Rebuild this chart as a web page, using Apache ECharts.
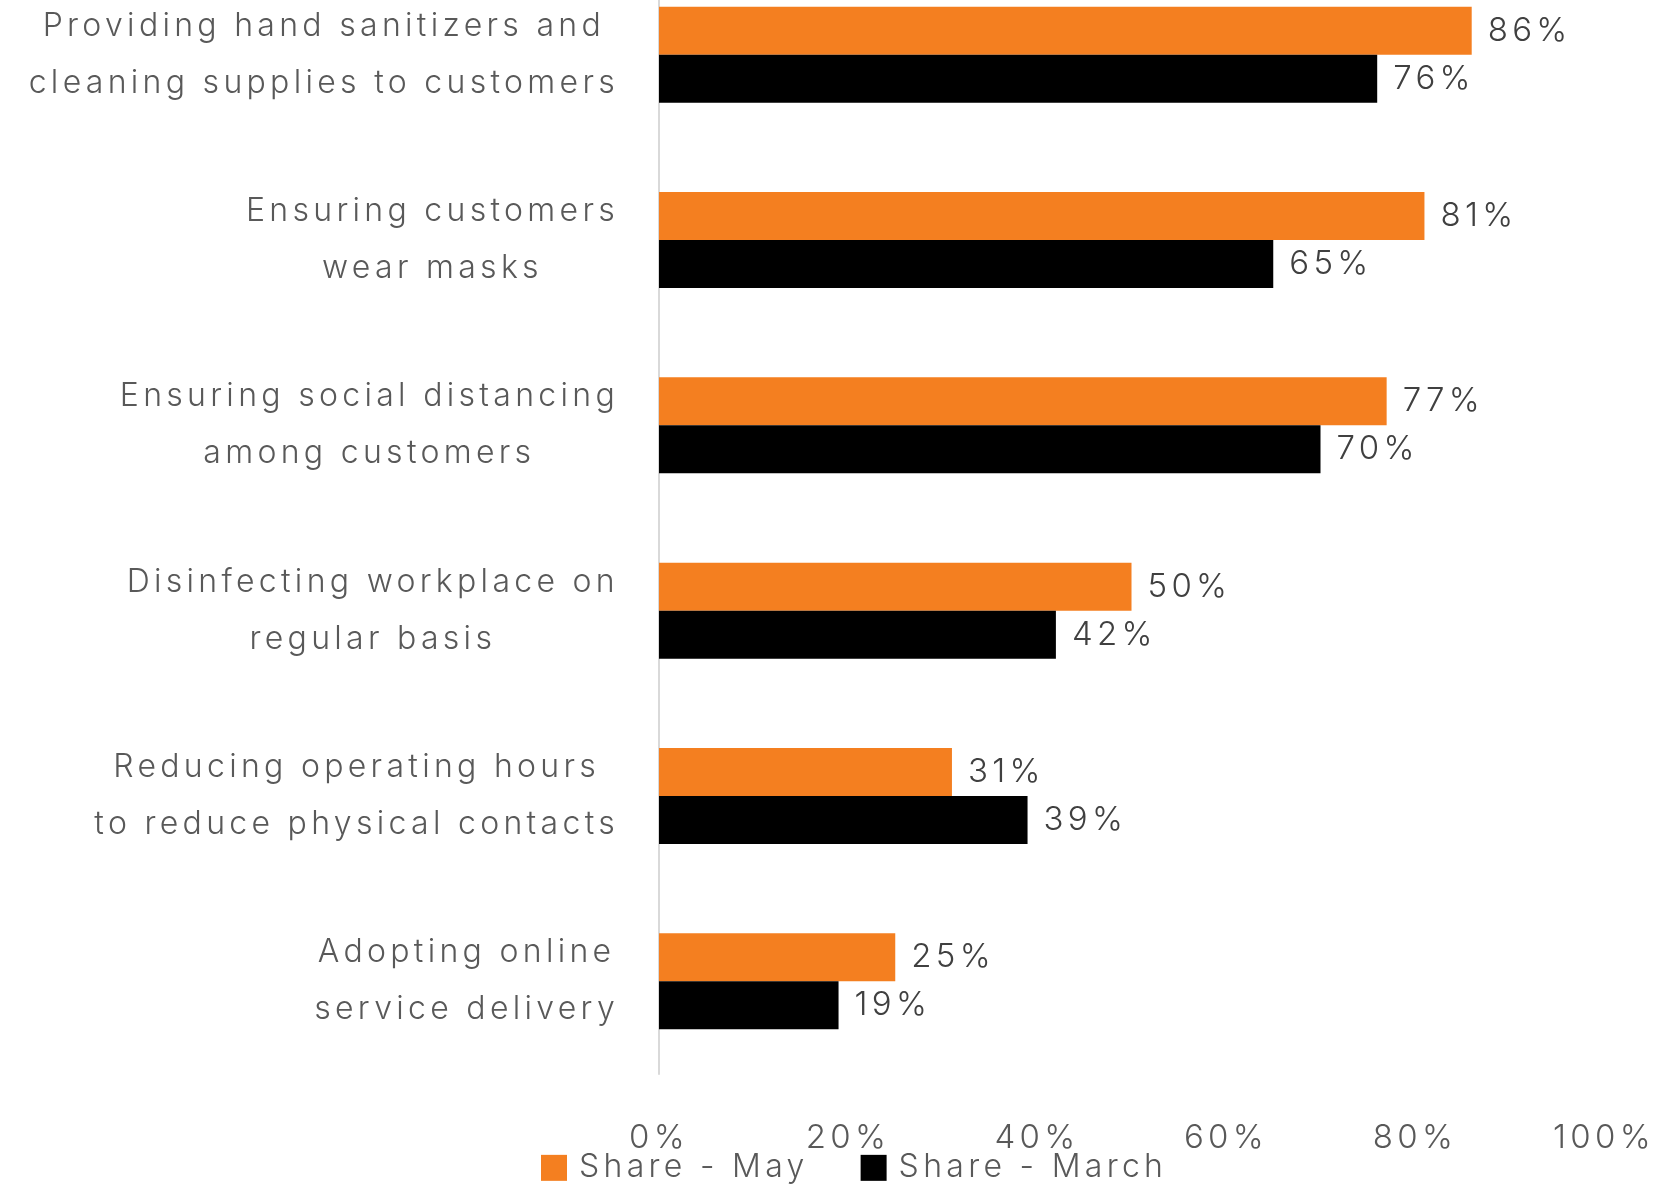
<!DOCTYPE html>
<html>
<head>
<meta charset="utf-8">
<title>Safety measures adopted</title>
<script src="https://cdn.jsdelivr.net/npm/echarts@6/dist/echarts.min.js"></script>
<style>
  html, body { margin: 0; padding: 0; background: #ffffff; overflow: hidden; }
  /* the plot's first band starts above the page edge, so the canvas is taller and shifted up */
  #chart { position: absolute; left: 0; top: -38px; width: 1677px; height: 1224px; }
</style>
</head>
<body>
<div id="chart"></div>
<script>
// Measures, listed top to bottom
const categories = [
  'Providing hand sanitizers and\ncleaning supplies to customers',
  'Ensuring customers\nwear masks',
  'Ensuring social distancing\namong customers',
  'Disinfecting workplace on\nregular basis',
  'Reducing operating hours\nto reduce physical contacts',
  'Adopting online\nservice delivery'
];
const shareMay = [86, 81, 77, 50, 31, 25];
const shareMarch = [76, 65, 70, 42, 39, 19];
const seriesNames = ['Share - May', 'Share - March'];
const xTicks = [0, 20, 40, 60, 80, 100];

// Airy tracking for all canvas text: applied both when measuring and drawing,
// so the library's layout stays consistent with what is painted.
const TRACKING = '4.3px';
(function () {
  const proto = CanvasRenderingContext2D.prototype;
  ['fillText', 'strokeText', 'measureText'].forEach(fn => {
    const orig = proto[fn];
    proto[fn] = function () {
      this.letterSpacing = TRACKING;
      return orig.apply(this, arguments);
    };
  });
})();

const FONT = 'Inter, sans-serif';
const GREY = '#595959';

const chart = echarts.init(document.getElementById('chart'), null, { renderer: 'canvas' });

chart.setOption({
  backgroundColor: '#ffffff',
  animation: false,
  textStyle: { fontFamily: FONT },
  grid: { left: 659, right: 73, top: 0, bottom: 112, containLabel: false },
  legend: {
    left: 541,
    bottom: 0,
    padding: 0,
    itemWidth: 26,
    itemHeight: 26,
    itemGap: 52,
    icon: 'rect',
    textStyle: { fontFamily: FONT, fontSize: 32, fontWeight: 300, color: GREY, padding: [0, 0, 0, 7] },
    data: seriesNames
  },
  xAxis: {
    type: 'value',
    min: xTicks[0],
    max: xTicks[xTicks.length - 1],
    interval: xTicks[1] - xTicks[0],
    axisLine: { show: false },
    axisTick: { show: false },
    splitLine: { show: false },
    axisLabel: {
      formatter: v => v + '%',
      fontFamily: FONT,
      fontSize: 33,
      fontWeight: 300,
      color: GREY,
      margin: 45
    }
  },
  yAxis: {
    type: 'category',
    inverse: true,
    data: categories,
    axisLine: { show: true, lineStyle: { color: '#d9d9d9', width: 2 } },
    axisTick: { show: false },
    axisLabel: {
      margin: 40,
      formatter: v => v.split('\n').map(line => '{c|' + line + '}').join('\n'),
      rich: {
        c: {
          align: 'center',
          fontFamily: FONT,
          fontSize: 32,
          fontWeight: 300,
          lineHeight: 57,
          color: GREY
        }
      }
    }
  },
  series: [
    {
      name: seriesNames[0],
      type: 'bar',
      data: shareMay,
      barWidth: 48,
      barGap: '0%',
      itemStyle: { color: '#f47f20' },
      label: {
        show: true,
        position: 'right',
        distance: 16,
        formatter: p => p.value + '%',
        fontFamily: FONT,
        fontSize: 33,
        fontWeight: 300,
        color: '#404040'
      }
    },
    {
      name: seriesNames[1],
      type: 'bar',
      data: shareMarch,
      barWidth: 48,
      barGap: '0%',
      itemStyle: { color: '#000000' },
      label: {
        show: true,
        position: 'right',
        distance: 16,
        formatter: p => p.value + '%',
        fontFamily: FONT,
        fontSize: 33,
        fontWeight: 300,
        color: '#404040'
      }
    }
  ]
});
</script>
</body>
</html>
